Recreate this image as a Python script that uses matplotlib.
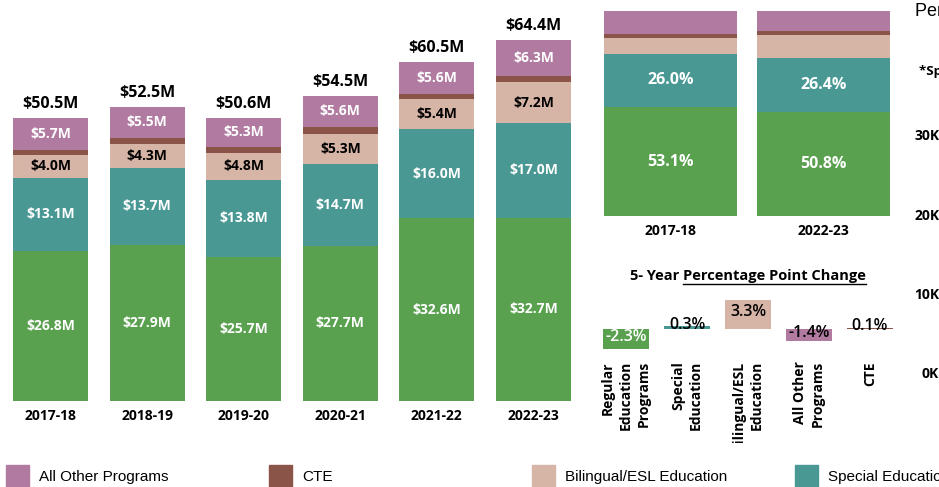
import matplotlib
matplotlib.use("Agg")
import matplotlib.pyplot as plt
import numpy as np
from matplotlib.patches import Rectangle
from matplotlib.lines import Line2D

# Spending by program, $M
years = ["2017-18", "2018-19", "2019-20", "2020-21", "2021-22", "2022-23"]
regular = [26.8, 27.9, 25.7, 27.7, 32.6, 32.7]
special = [13.1, 13.7, 13.8, 14.7, 16.0, 17.0]
bilingual = [4.0, 4.3, 4.8, 5.3, 5.4, 7.2]
cte = [0.9, 1.1, 1.0, 1.2, 0.9, 1.2]
other = [5.7, 5.5, 5.3, 5.6, 5.6, 6.3]

# Share of total, %
share_years = ["2017-18", "2022-23"]
share_regular = [53.1, 50.8]
share_special = [26.0, 26.4]
share_bilingual = [7.9, 11.2]
share_cte = [1.8, 1.9]
share_other = [11.2, 9.7]

# 5-year percentage point change
change_labels = ["Regular\nEducation\nPrograms", "Special\nEducation",
                 "Bilingual/ESL\nEducation", "All Other\nPrograms", "CTE"]
pp_change = [-2.3, 0.3, 3.3, -1.4, 0.1]

legend_labels = ["All Other Programs", "CTE", "Bilingual/ESL Education",
                 "Special Education", "Regular Education Programs"]

C_REG = "#59A14F"
C_SPE = "#499894"
C_BIL = "#D7B5A6"
C_CTE = "#8A5548"
C_OTH = "#B07AA1"

plt.rcParams["font.family"] = ["Open Sans", "DejaVu Sans"]

W, H = 939, 487
fig = plt.figure(figsize=(W / 100, H / 100), dpi=100)


def px_axes(left, top, width, height):
    return fig.add_axes([left / W, 1 - (top + height) / H, width / W, height / H])


def clean(ax):
    for s in ax.spines.values():
        s.set_visible(False)
    ax.set_yticks([])
    ax.tick_params(axis="x", length=0)


# ---- stacked $ bars
ax = px_axes(0, 0, 585, 401)
step = 96.6
ax.set_xlim(-50.5 / step, (585 - 50.5) / step)
ax.set_ylim(0, 401 / 5.6)
x = np.arange(len(years))
bottom = np.zeros(len(years))
for vals, col, tc in [(regular, C_REG, "white"), (special, C_SPE, "white"),
                      (bilingual, C_BIL, "black"), (cte, C_CTE, None),
                      (other, C_OTH, "white")]:
    bars = ax.bar(x, vals, 0.776, bottom=bottom, color=col)
    if tc:
        ax.bar_label(bars, labels=[f"${v:.1f}M" for v in vals], label_type="center",
                     color=tc, fontsize=10, fontweight="bold")
    bottom += np.array(vals)
for i, t in enumerate(bottom):
    ax.annotate(f"${t:.1f}M", (i, t), xytext=(0, 10), textcoords="offset points",
                ha="center", va="center", fontsize=11.5, fontweight="bold")
ax.set_xticks(x, years, fontsize=10, fontweight="bold")
ax.tick_params(axis="x", pad=6)
clean(ax)

# ---- 100% share bars
ax2 = px_axes(594, 11, 306, 205)
ax2.set_xlim(-0.5, 1.5)
ax2.set_ylim(0, 100)
x2 = np.arange(len(share_years))
bottom = np.zeros(len(share_years))
for vals, col, lab in [(share_regular, C_REG, True), (share_special, C_SPE, True),
                       (share_bilingual, C_BIL, False), (share_cte, C_CTE, False),
                       (share_other, C_OTH, False)]:
    bars = ax2.bar(x2, vals, 0.869, bottom=bottom, color=col)
    if lab:
        ax2.bar_label(bars, labels=[f"{v:.1f}%" for v in vals], label_type="center",
                      color="white", fontsize=11.5, fontweight="bold")
    bottom += np.array(vals)
ax2.set_xticks(x2, share_years, fontsize=10, fontweight="bold")
ax2.tick_params(axis="x", pad=6)
clean(ax2)

# ---- percentage point change
ax3 = px_axes(595.5, 290, 305, 153)
ax3.set_xlim(-0.5, 4.5)
ax3.set_ylim((329 - 443) / 8.9, (329 - 290) / 8.9)
x3 = np.arange(len(pp_change))
ax3.bar(x3, pp_change, 0.754, color=[C_REG, C_SPE, C_BIL, C_OTH, C_CTE])
for i, v in enumerate(pp_change):
    ax3.text(i, v / 2 + 0.3, f"{v:.1f}%", ha="center", va="center", fontsize=11.5,
             fontweight="semibold", color="white" if i == 0 else "black")
    ax3.text(i, -3.6, change_labels[i], rotation=90, ha="center", va="top",
             multialignment="right", fontsize=10, fontweight="bold",
             linespacing=1.35, clip_on=True)
clean(ax3)
ax3.set_xticks([])

# title with underline
t1 = fig.text(630 / W, 1 - 276 / H, "5- Year ", fontsize=10.5, fontweight="bold", va="center")
renderer = fig.canvas.get_renderer()
bb1 = t1.get_window_extent(renderer)
t2 = fig.text(bb1.x1 / W, 1 - 276 / H, "Percentage Point Change", fontsize=10.5,
              fontweight="bold", va="center")
bb2 = t2.get_window_extent(renderer)
fig.add_artist(Line2D([bb2.x0 / W, bb2.x1 / W], [1 - 284 / H] * 2, color="black", lw=1))

# ---- cut-off neighbouring chart on the right edge
fig.text(915 / W, 1 - 12 / H, "Per Pupil Spending", fontsize=13, va="center",
         family="Liberation Sans")
fig.text(919 / W, 1 - 71 / H, "*Special Education", fontsize=9.5, fontweight="bold",
         va="center")
ax4 = px_axes(942, 135, 60, 238)
ax4.set_ylim(0, 30000)
ax4.set_yticks([0, 10000, 20000, 30000], ["0K", "10K", "20K", "30K"],
               fontsize=10, fontweight="bold")
ax4.tick_params(axis="y", length=0, pad=2)
ax4.set_xticks([])
ax4.patch.set_visible(False)
for s in ax4.spines.values():
    s.set_visible(False)

# ---- legend row
for i, (lab, col) in enumerate(zip(legend_labels, [C_OTH, C_CTE, C_BIL, C_SPE, C_REG])):
    x0 = 6 + i * 263
    fig.add_artist(Rectangle((x0 / W, 0), 23 / W, 22 / H, color=col, transform=fig.transFigure))
    fig.text((x0 + 33) / W, 1 - 477 / H, lab, fontsize=11, va="center",
             family="Liberation Sans")

fig.savefig("out.png", dpi=100)
